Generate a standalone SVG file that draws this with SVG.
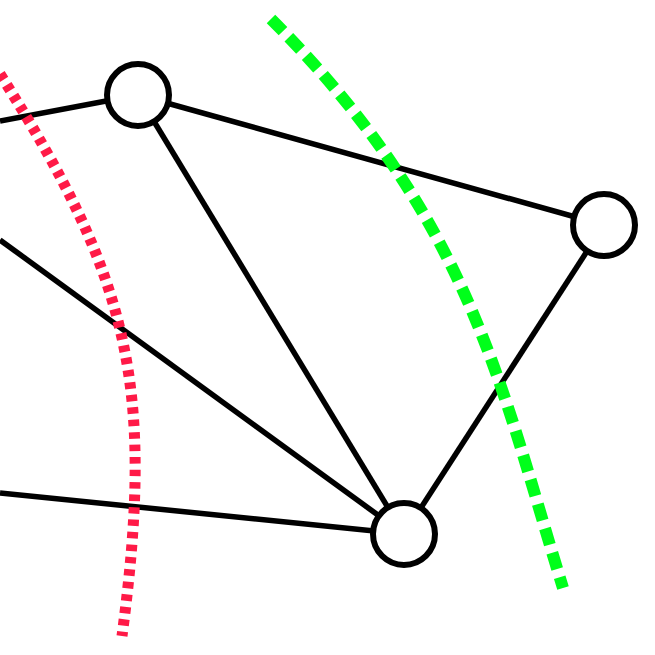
<svg xmlns="http://www.w3.org/2000/svg" width="655" height="655" viewBox="0 0 655 655">
  <style>
    .edge { stroke: #000; stroke-width: 5.5; fill: none; }
    .node circle { fill: #fff; stroke: #000; stroke-width: 6; }
    .cut-red { fill: none; stroke: #ff1a47; stroke-width: 11; stroke-dasharray: 6.5 6; }
    .cut-green { fill: none; stroke: #00ff1a; stroke-width: 12; stroke-dasharray: 17 8.5; }
  </style>
  <rect width="655" height="655" fill="#fff"/>
  <g id="connectors">
    <line class="edge" x1="0" y1="121" x2="138" y2="95"/>
    <line class="edge" x1="138" y1="95" x2="604" y2="225"/>
    <line class="edge" x1="138" y1="95" x2="404" y2="534"/>
    <line class="edge" x1="604" y1="225" x2="404" y2="534"/>
    <line class="edge" x1="0" y1="240" x2="404" y2="534"/>
    <line class="edge" x1="0" y1="493" x2="404" y2="534"/>
  </g>
  <g id="cuts">
    <path class="cut-red" d="M0,74 C130,280 155,386 122,636"/>
    <path class="cut-green" d="M271,19 C471,219 501,388 563,588"/>
  </g>
  <g id="node1" class="node"><circle cx="138" cy="95" r="31"/></g>
  <g id="node2" class="node"><circle cx="604" cy="225" r="31"/></g>
  <g id="node3" class="node"><circle cx="404" cy="534" r="31"/></g>
</svg>
